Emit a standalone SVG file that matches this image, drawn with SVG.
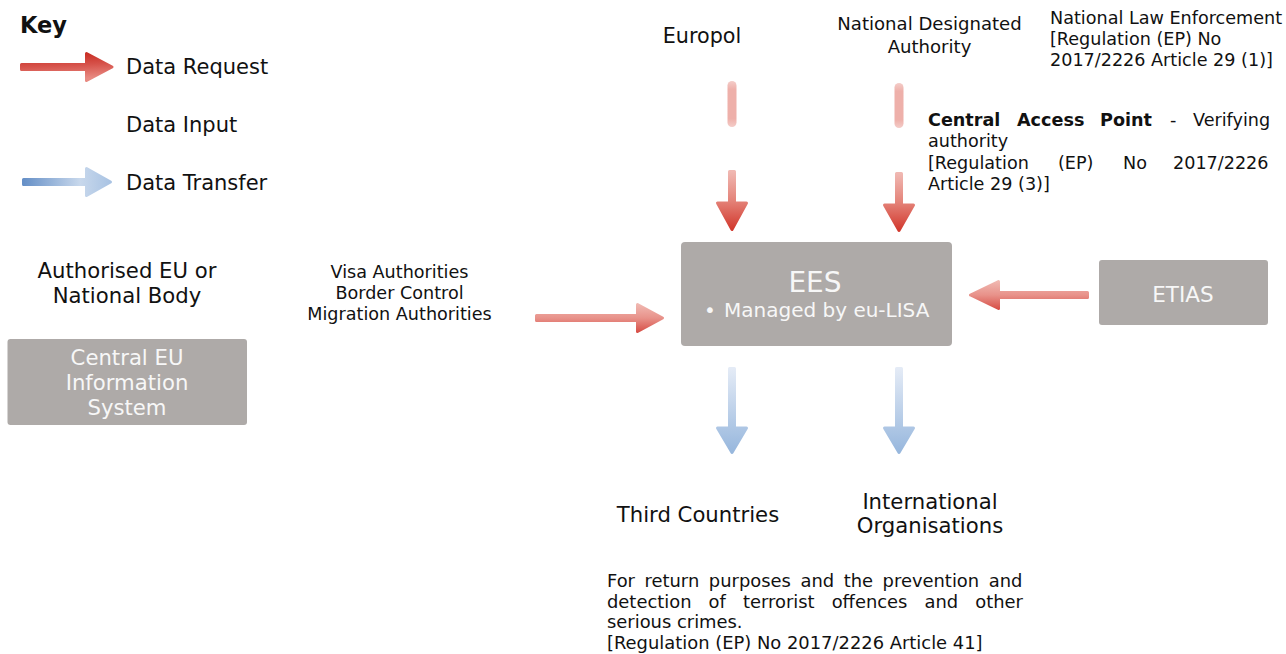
<svg xmlns="http://www.w3.org/2000/svg" width="1286" height="654" viewBox="0 0 1286 654">
<defs>
<linearGradient id="gReqKey" x1="0" y1="0" x2="0.15" y2="1">
<stop offset="0" stop-color="#c6261c"/>
<stop offset="0.5" stop-color="#d6524a"/>
<stop offset="1" stop-color="#e88a82"/>
</linearGradient>
<linearGradient id="gReqH" x1="0" y1="0" x2="0" y2="1">
<stop offset="0" stop-color="#f0b7b0"/>
<stop offset="0.5" stop-color="#e8928a"/>
<stop offset="1" stop-color="#d8524a"/>
</linearGradient>
<linearGradient id="gReqV" x1="0" y1="0" x2="0" y2="1">
<stop offset="0" stop-color="#f0b8b2"/>
<stop offset="0.5" stop-color="#e48379"/>
<stop offset="1" stop-color="#d2382d"/>
</linearGradient>
<linearGradient id="gTransV" x1="0" y1="0" x2="0" y2="1">
<stop offset="0" stop-color="#e4ebf6"/>
<stop offset="1" stop-color="#97b7dd"/>
</linearGradient>
<linearGradient id="gTransKey" x1="0" y1="0" x2="1" y2="0">
<stop offset="0" stop-color="#6690c7"/>
<stop offset="0.65" stop-color="#c8d8ec"/>
<stop offset="1" stop-color="#a9c3e3"/>
</linearGradient>
<linearGradient id="gFade" x1="0" y1="0" x2="0" y2="1">
<stop offset="0" stop-color="#f4cdc9"/>
<stop offset="0.18" stop-color="#eeb0aa"/>
<stop offset="0.82" stop-color="#eeb0aa"/>
<stop offset="1" stop-color="#f4cdc9"/>
</linearGradient>
</defs>
<style>
text{font-family:"DejaVu Sans",Verdana,sans-serif;fill:#111}
.big{font-size:21.2px}
.key{font-size:21px}
.sm{font-size:17.6px}
.para{font-size:17.9px}
.c{text-anchor:middle}
.b{font-weight:bold}
.box{fill:#aeaaa8}
.bt{fill:#f7f7f7}
.arr{stroke-width:3;stroke-linejoin:round}
</style>
<rect width="1286" height="654" fill="#ffffff"/>

<g id="key">
<text x="20" y="33" class="b" style="font-size:22.5px">Key</text>
<path class="arr" fill="url(#gReqKey)" stroke="url(#gReqKey)" d="M21.5,64.5 H86.5 V53.5 L112,67 L86.5,80.5 V69.5 H21.5 Z"/>
<text x="126" y="74" class="key">Data Request</text>
<text x="126" y="132" class="key">Data Input</text>
<path class="arr" fill="url(#gTransKey)" stroke="url(#gTransKey)" d="M23.5,179.5 H86.5 V168.5 L110.5,182 L86.5,195.5 V184.5 H23.5 Z"/>
<text x="126" y="190" class="key">Data Transfer</text>
<text x="127" y="278" class="big c">Authorised EU or</text>
<text x="127" y="303" class="big c">National Body</text>
<rect class="box" x="7.5" y="339" width="239.5" height="86" rx="3"/>
<text x="127" y="365" class="big c bt">Central EU</text>
<text x="127" y="390" class="big c bt">Information</text>
<text x="127" y="415" class="big c bt">System</text>
</g>

<g id="ees">
<rect class="box" x="681" y="242" width="271" height="104" rx="4"/>
<text x="815" y="292" class="c bt" style="font-size:28px">EES</text>
<text x="704" y="317" class="bt" style="font-size:20px">•</text>
<text x="724" y="317" class="bt" style="font-size:20px">Managed by eu-LISA</text>
</g>

<g id="etias">
<rect class="box" x="1099" y="260" width="169" height="65" rx="3"/>
<text x="1183" y="302" class="c bt" style="font-size:21.5px">ETIAS</text>
</g>

<g id="visa">
<text x="399.5" y="278" class="sm c">Visa Authorities</text>
<text x="399.5" y="299" class="sm c">Border Control</text>
<text x="399.5" y="320" class="sm c">Migration Authorities</text>
</g>

<g id="europol">
<text x="702" y="43" class="c" style="font-size:20.7px">Europol</text>
</g>

<g id="nda">
<text x="929.5" y="30" class="c" style="font-size:18.1px">National Designated</text>
<text x="929.5" y="53" class="c" style="font-size:18.1px">Authority</text>
</g>

<g id="nle">
<text x="1050" y="24" class="sm">National Law Enforcement</text>
<text x="1050" y="45" class="sm">[Regulation (EP) No</text>
<text x="1050" y="66" class="sm">2017/2226 Article 29 (1)]</text>
</g>

<g id="cap">
<text y="126" class="sm"><tspan x="928" class="b">Central</tspan><tspan x="1017" class="b">Access</tspan><tspan x="1100" class="b">Point</tspan><tspan x="1170">-</tspan><tspan x="1193">Verifying</tspan></text>
<text x="928" y="147" class="sm">authority</text>
<text y="169" class="sm"><tspan x="928">[Regulation</tspan><tspan x="1058">(EP)</tspan><tspan x="1123">No</tspan><tspan x="1173">2017/2226</tspan></text>
<text x="928" y="190" class="sm">Article 29 (3)]</text>
</g>

<g id="third">
<text x="698" y="522" class="big c">Third Countries</text>
</g>

<g id="intl">
<text x="930" y="509" class="big c">International</text>
<text x="930" y="533" class="big c">Organisations</text>
</g>

<g id="purpose">
<text x="607" y="587" class="para" word-spacing="3.9">For return purposes and the prevention and</text>
<text x="607" y="607.5" class="para" word-spacing="11.4">detection of terrorist offences and other</text>
<text x="607" y="628" class="para">serious crimes.</text>
<text x="607" y="648.5" class="para">[Regulation (EP) No 2017/2226 Article 41]</text>
</g>

<g id="connectors">
<rect x="727.5" y="81" width="9" height="46" rx="4.5" fill="url(#gFade)"/>
<path class="arr" fill="url(#gReqV)" stroke="url(#gReqV)" d="M729.5,171.5 H734.5 V203 H746.5 L732,229.5 L717.5,203 H729.5 Z"/>
<rect x="894.5" y="83" width="9" height="45" rx="4.5" fill="url(#gFade)"/>
<path class="arr" fill="url(#gReqV)" stroke="url(#gReqV)" d="M896.5,173.5 H901.5 V205 H913.5 L899,230.5 L884.5,205 H896.5 Z"/>
<path class="arr" fill="url(#gReqH)" stroke="url(#gReqH)" d="M536.5,315.5 H637.5 V304.5 L662.5,318 L637.5,331.5 V320.5 H536.5 Z"/>
<path class="arr" fill="url(#gReqH)" stroke="url(#gReqH)" d="M1087.5,292.5 H998.5 V281.5 L970.5,295 L998.5,308.5 V297.5 H1087.5 Z"/>
<path class="arr" fill="url(#gTransV)" stroke="url(#gTransV)" d="M729.5,368.5 H734.5 V428 H746.5 L732,452.5 L717.5,428 H729.5 Z"/>
<path class="arr" fill="url(#gTransV)" stroke="url(#gTransV)" d="M896.5,368.5 H901.5 V428 H913.5 L899,452.5 L884.5,428 H896.5 Z"/>
</g>
</svg>
